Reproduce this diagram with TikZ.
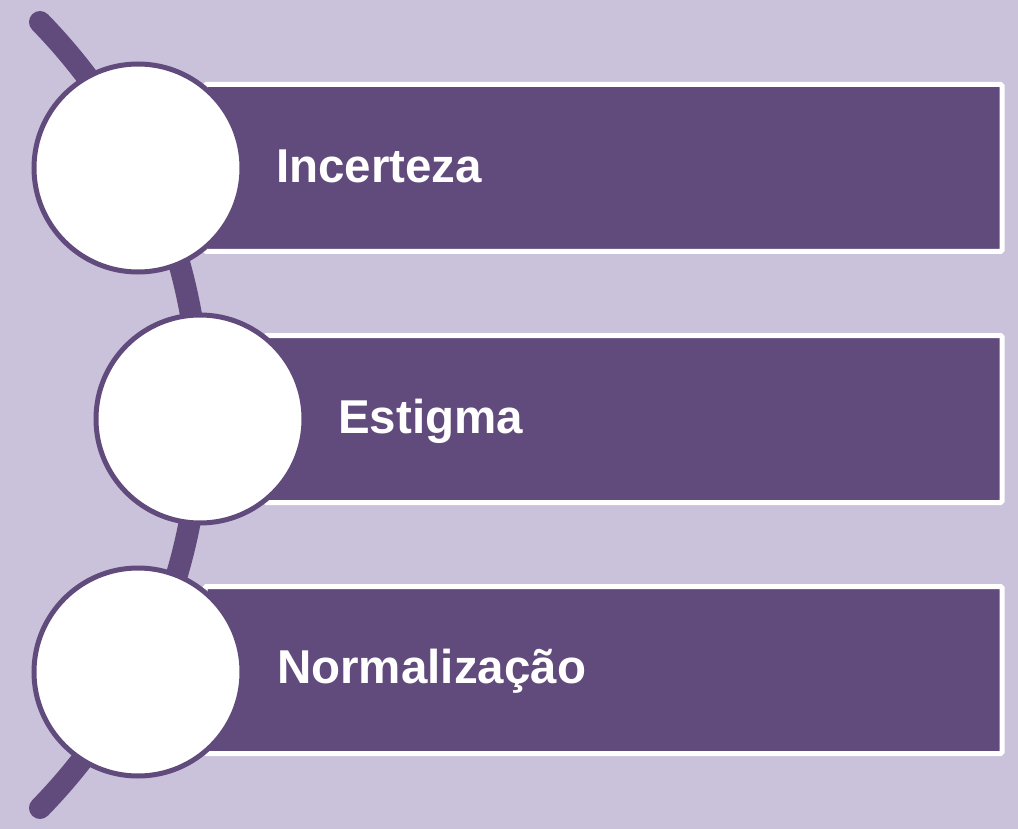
\documentclass[tikz,border=0pt]{standalone}
\usepackage{fontspec}
\setmainfont{Liberation Sans}
\definecolor{bgc}{HTML}{CAC1DA}
\definecolor{purp}{HTML}{614B7C}
\tikzset{
  bar/.style={fill=purp, draw=white, line width=5pt, rounded corners=1.5pt},
  disc/.style={circle, fill=white, draw=purp, line width=5pt, minimum size=208pt, inner sep=0pt},
  lbl/.style={anchor=base west, text=white, font=\fontsize{47.5pt}{50pt}\selectfont\bfseries, inner sep=0pt},
  spine/.style={draw=purp, line width=22pt, line cap=round}
}
\begin{document}
\begin{tikzpicture}[x=1pt, y=-1pt]
\fill[bgc] (0,0) rectangle (1018,829);
\useasboundingbox (0,0) rectangle (1018,829);
% spine arc
\coordinate (ac) at (-362.7,415);
\draw[spine] (ac) ++(-44.3:562.7) arc[start angle=-44.3, end angle=44.3, radius=562.7];
% bars
\draw[bar] (205,84.5) rectangle (1002,251.5);
\draw[bar] (265,335.5) rectangle (1002,502.5);
\draw[bar] (205,586.5) rectangle (1002,753.5);
% circles
\node[disc] (c1) at (138,168) {};
\node[disc] (c2) at (200,419) {};
\node[disc] (c3) at (138,672) {};
% labels
\node[lbl] (t1) at (276,183) {Incerteza};
\node[lbl] (t2) at (338,433) {Estigma};
\node[lbl] (t3) at (277,683) {Normalização};
\end{tikzpicture}
\end{document}
